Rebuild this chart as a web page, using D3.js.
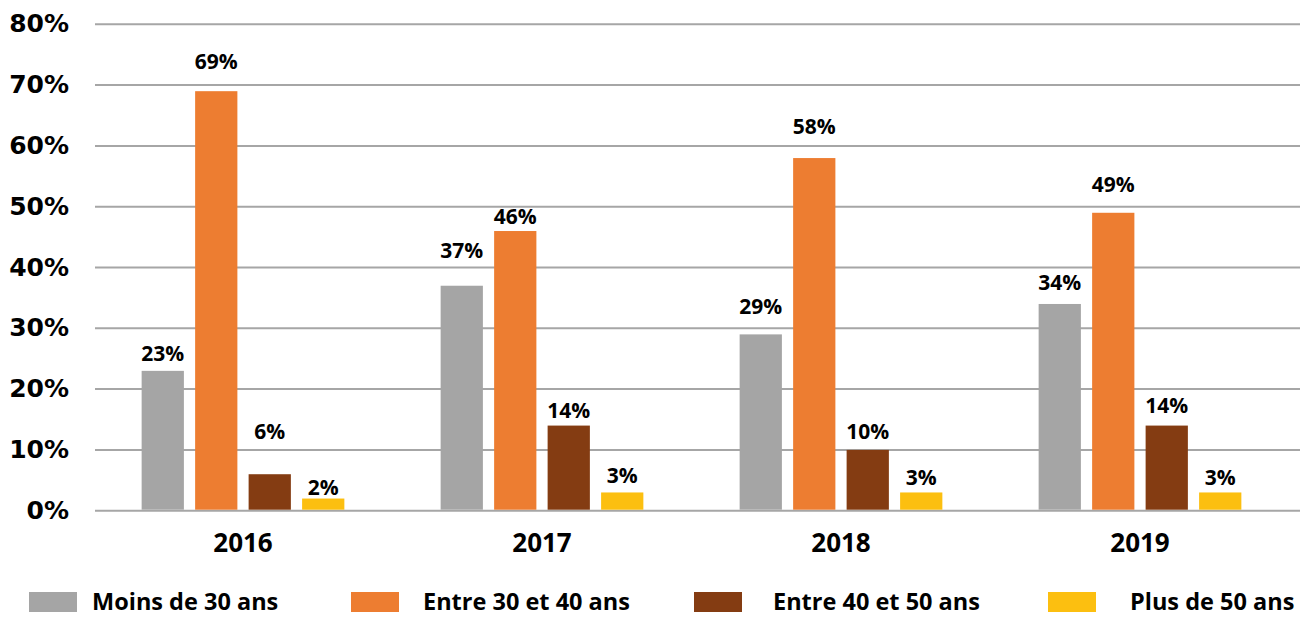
<!DOCTYPE html>
<html lang="fr">
<head>
<meta charset="utf-8">
<script src="https://cdn.jsdelivr.net/npm/d3@7"></script>
<style>
  html, body { margin: 0; padding: 0; background: #ffffff; }
  svg { display: block; }
</style>
</head>
<body>
<svg id="chart" width="1313" height="617"></svg>
<script>
// Répartition par tranche d'âge, 2016–2019
const years = ["2016", "2017", "2018", "2019"];
const series = ["Moins de 30 ans", "Entre 30 et 40 ans", "Entre 40 et 50 ans", "Plus de 50 ans"];
const moins30 = [23, 37, 29, 34];
const entre30_40 = [69, 46, 58, 49];
const entre40_50 = [6, 14, 10, 14];
const plus50 = [2, 3, 3, 3];
const yTicks = [0, 10, 20, 30, 40, 50, 60, 70, 80];

const values = [moins30, entre30_40, entre40_50, plus50];
const colors = ["#a5a5a5", "#ed7d31", "#843c12", "#fcbf10"];

// Vertical lift (px) of each value label above its bar, per year then series
const labelLift = [
  [10, 22, 35, 4],
  [28, 7, 8, 9],
  [20, 24, 11, 7],
  [14, 21, 13, 7]
];

const svg = d3.select("#chart");
const gridLeft = 95, gridRight = 1300;

const y = d3.scaleLinear().domain([0, 80]).range([510.7, 24.3]);
const x0 = d3.scaleBand().domain(years).range([93.5, 1289.5]).paddingInner(0).paddingOuter(0);
const x1 = d3.scaleBand().domain(series).range([0, x0.bandwidth()]).paddingInner(0.21).paddingOuter(0.9);

const textFont = "'Open Sans', 'Noto Sans', sans-serif";

// Horizontal gridlines
svg.append("g")
  .selectAll("line")
  .data(yTicks)
  .join("line")
  .attr("x1", gridLeft).attr("x2", gridRight)
  .attr("y1", d => y(d)).attr("y2", d => y(d))
  .attr("stroke", "#a6a6a6")
  .attr("stroke-width", 2);

// Y tick labels
svg.append("g")
  .selectAll("text")
  .data(yTicks)
  .join("text")
  .attr("x", 69)
  .attr("y", d => y(d) + 8)
  .attr("text-anchor", "end")
  .attr("font-family", "'DejaVu Sans', sans-serif")
  .attr("font-weight", "bold")
  .attr("font-size", 25)
  .attr("fill", "#000")
  .text(d => d + "%");

// Bars and labels
const rows = [];
years.forEach((yr, i) => {
  series.forEach((s, j) => {
    rows.push({ year: yr, series: s, value: values[j][i], color: colors[j], lift: labelLift[i][j] });
  });
});

const groups = svg.append("g");
groups.selectAll("rect")
  .data(rows)
  .join("rect")
  .attr("x", d => x0(d.year) + x1(d.series))
  .attr("width", x1.bandwidth())
  .attr("y", d => y(d.value))
  .attr("height", d => y(0) - 1 - y(d.value))
  .attr("fill", d => d.color);

groups.selectAll("text")
  .data(rows)
  .join("text")
  .attr("x", d => x0(d.year) + x1(d.series) + x1.bandwidth() / 2)
  .attr("y", d => y(d.value) - d.lift)
  .attr("text-anchor", "middle")
  .attr("font-family", textFont)
  .attr("font-weight", "bold")
  .attr("font-size", 21)
  .attr("fill", "#000")
  .text(d => d.value + "%");

// Year labels
svg.append("g")
  .selectAll("text")
  .data(years)
  .join("text")
  .attr("x", d => x0(d) + x0.bandwidth() / 2)
  .attr("y", 552)
  .attr("text-anchor", "middle")
  .attr("font-family", textFont)
  .attr("font-weight", "bold")
  .attr("font-size", 26)
  .attr("fill", "#000")
  .text(d => d);

// Legend
const legendSwatchX = [29, 351, 694, 1048];
const legendTextX = [92, 423, 773, 1130];
const legend = svg.append("g");
legend.selectAll("rect")
  .data(series)
  .join("rect")
  .attr("x", (d, i) => legendSwatchX[i])
  .attr("y", 592)
  .attr("width", 48)
  .attr("height", 20)
  .attr("fill", (d, i) => colors[i]);
legend.selectAll("text")
  .data(series)
  .join("text")
  .attr("x", (d, i) => legendTextX[i])
  .attr("y", 610)
  .attr("font-family", textFont)
  .attr("font-weight", "bold")
  .attr("font-size", 23.5)
  .attr("fill", "#000")
  .text(d => d);
</script>
</body>
</html>
